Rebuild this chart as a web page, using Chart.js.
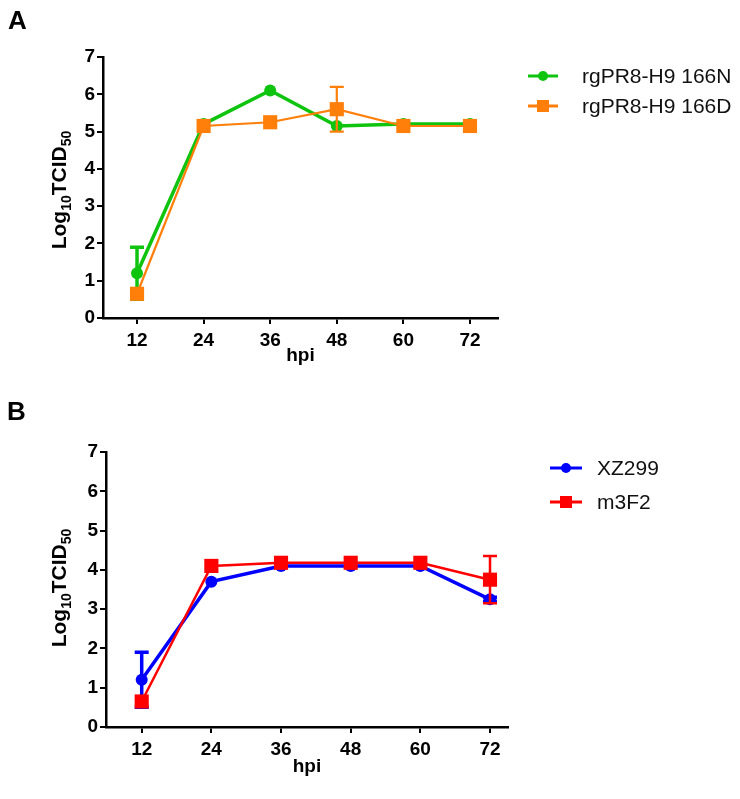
<!DOCTYPE html>
<html><head><meta charset="utf-8">
<script src="https://cdn.jsdelivr.net/npm/chart.js@4/dist/chart.umd.min.js"></script>
<style>
html,body{margin:0;padding:0;background:#fff;}
#wrap{position:relative;width:740px;height:799px;overflow:hidden;background:#fff;}
canvas{position:absolute;left:0;}
</style></head><body>
<div id="wrap">
<canvas id="cA" width="740" height="395" style="top:0px"></canvas>
<canvas id="cB" width="740" height="404" style="top:395px"></canvas>
</div>
<script>
// ---- data ----
const hpiTicks = [12, 24, 36, 48, 60, 72];
const yTicks = [0, 1, 2, 3, 4, 5, 6, 7];

const nameN166 = 'rgPR8-H9 166N';
const valsN166 = [1.2, 5.2, 6.1, 5.15, 5.2, 5.2];
const errN166  = [0.7, 0, 0, 0, 0, 0];

const nameD166 = 'rgPR8-H9 166D';
const valsD166 = [0.65, 5.15, 5.25, 5.6, 5.15, 5.15];
const errD166  = [0.05, 0, 0, 0.6, 0, 0];

const nameXZ = 'XZ299';
const valsXZ = [1.2, 3.7, 4.1, 4.1, 4.1, 3.25];
const errXZ  = [0.7, 0, 0, 0, 0, 0.05];

const nameM3 = 'm3F2';
const valsM3 = [0.65, 4.1, 4.18, 4.18, 4.18, 3.75];
const errM3  = [0, 0, 0, 0, 0, 0.6];

const xTitle = 'hpi';
const FONT = '"Liberation Sans", Arial, sans-serif';

function pts(vals){ return hpiTicks.map((h,i)=>({x:h, y:vals[i]})); }

const errorBars = {
  id:'errorBars',
  afterDatasetDraw(chart, args){
    const ds = chart.data.datasets[args.index];
    if(!ds.errors) return;
    const ctx = chart.ctx, xs = chart.scales.x, ys = chart.scales.y;
    ctx.save();
    ctx.strokeStyle = ds.borderColor; ctx.lineWidth = ds.errWidth || ds.borderWidth;
    ds.data.forEach((p,i)=>{
      const e = ds.errors[i]; if(!e) return;
      const x = xs.getPixelForValue(p.x);
      const t = ys.getPixelForValue(p.y + e), b = ys.getPixelForValue(p.y - e);
      ctx.beginPath();
      ctx.moveTo(x,t); ctx.lineTo(x,b);
      ctx.moveTo(x-7,t); ctx.lineTo(x+7,t);
      ctx.moveTo(x-7,b); ctx.lineTo(x+7,b);
      ctx.stroke();
    });
    ctx.restore();
  }
};

const decor = {
  id:'decor',
  afterDraw(chart, args, o){
    const ctx = chart.ctx;
    ctx.save();
    ctx.fillStyle = '#000';
    ctx.font = 'bold 26px ' + FONT;
    ctx.textBaseline = 'alphabetic'; ctx.textAlign = 'left';
    ctx.fillText(o.letter, o.letterX, o.letterY);
    ctx.font = 'bold 19px ' + FONT;
    ctx.textAlign = 'center'; ctx.textBaseline = 'middle';
    const xs = chart.scales.x;
    ctx.fillText(xTitle, (xs.left + xs.right)/2 + o.xTitleDx, o.xTitleY);
    ctx.save();
    ctx.translate(o.yTitleX, o.yTitleY);
    ctx.rotate(-Math.PI/2);
    const parts = [['Log', 'bold 21px ', 0], ['10', 'bold 14px ', 5], ['TCID', 'bold 21px ', 0], ['50', 'bold 14px ', 5]];
    let total = 0;
    parts.forEach(p=>{ ctx.font = p[1] + FONT; total += ctx.measureText(p[0]).width; });
    let cx = -total/2;
    ctx.textAlign = 'left'; ctx.textBaseline = 'alphabetic';
    parts.forEach(p=>{ ctx.font = p[1] + FONT; ctx.fillText(p[0], cx, 7 + p[2]); cx += ctx.measureText(p[0]).width; });
    ctx.restore();
    o.legend.forEach(it=>{
      ctx.strokeStyle = it.color; ctx.lineWidth = 3;
      ctx.beginPath(); ctx.moveTo(o.legX1, it.y); ctx.lineTo(o.legX2, it.y); ctx.stroke();
      ctx.fillStyle = it.color;
      const mx = (o.legX1 + o.legX2)/2;
      if(it.shape === 'circle'){ ctx.beginPath(); ctx.arc(mx, it.y, 5, 0, Math.PI*2); ctx.fill(); }
      else { ctx.fillRect(mx-6, it.y-6, 12, 12); }
      ctx.fillStyle = '#111';
      ctx.font = '21px ' + FONT; ctx.textAlign = 'left'; ctx.textBaseline = 'middle';
      ctx.fillText(it.name, o.legTx, it.y + 1);
    });
    ctx.restore();
  }
};

function axes(xmin, xmax){
  const tickFont = {family: FONT, size: 19, weight: 'bold'};
  return {
    x: { type:'linear', min:xmin, max:xmax,
      afterBuildTicks: s => { s.ticks = hpiTicks.map(v=>({value:v})); },
      afterFit: s => { s.height = 60; },
      grid:{ drawOnChartArea:false, drawTicks:true, tickLength:6, color:'#000', lineWidth:2 },
      border:{ display:true, color:'#000', width:2.5 },
      ticks:{ font:tickFont, color:'#000', padding:5, maxRotation:0, autoSkip:false } },
    y: { type:'linear', min:0, max:7,
      afterBuildTicks: s => { s.ticks = yTicks.map(v=>({value:v})); },
      afterFit: s => { s.width = 50; },
      grid:{ drawOnChartArea:false, drawTicks:true, tickLength:6, color:'#000', lineWidth:2 },
      border:{ display:true, color:'#000', width:2.5 },
      ticks:{ font:tickFont, color:'#000', padding:2, autoSkip:false } }
  };
}

function ds(label, vals, errs, color, shape, lw, radius, order){
  return { label, data: pts(vals), errors: errs, borderColor: color, backgroundColor: color,
    pointBackgroundColor: color, pointBorderColor: color, pointStyle: shape, pointRadius: radius,
    pointBorderWidth: 0, borderWidth: lw, tension: 0, order, clip: false };
}

new Chart(document.getElementById('cA'), {
  type:'line',
  data:{ datasets:[
    ds(nameN166, valsN166, errN166, '#0ec40e', 'circle', 3.5, 6, 1),
    ds(nameD166, valsD166, errD166, '#ff7f0a', 'rect', 2.2, 10, 0)
  ]},
  options:{ responsive:false, animation:false, devicePixelRatio:1,
    layout:{ padding:{ left:53, right:242, top:57, bottom:17 } },
    scales: axes(5.87, 77.05),
    plugins:{ legend:{display:false}, tooltip:{enabled:false},
      decor:{ letter:'A', letterX:8, letterY:29, xTitleY:356, xTitleDx:0, yTitleX:59, yTitleY:190,
        legX1:528, legX2:558, legTx:582,
        legend:[ {name:nameN166, color:'#0ec40e', shape:'circle', y:76}, {name:nameD166, color:'#ff7f0a', shape:'rect', y:106} ] } } },
  plugins:[errorBars, decor]
});

new Chart(document.getElementById('cB'), {
  type:'line',
  data:{ datasets:[
    ds(nameXZ, valsXZ, errXZ, '#0000ff', 'circle', 3.5, 6, 1),
    ds(nameM3, valsM3, errM3, '#ff0000', 'rect', 2.5, 10, 0)
  ]},
  options:{ responsive:false, animation:false, devicePixelRatio:1,
    layout:{ padding:{ left:56, right:232, top:57, bottom:12 } },
    scales: axes(5.85, 75.1),
    plugins:{ legend:{display:false}, tooltip:{enabled:false},
      decor:{ letter:'B', letterX:7, letterY:25, xTitleY:372, xTitleDx:0, yTitleX:59, yTitleY:193,
        legX1:550, legX2:582, legTx:597,
        legend:[ {name:nameXZ, color:'#0000ff', shape:'circle', y:73}, {name:nameM3, color:'#ff0000', shape:'rect', y:107} ] } } },
  plugins:[errorBars, decor]
});
</script>
</body></html>
